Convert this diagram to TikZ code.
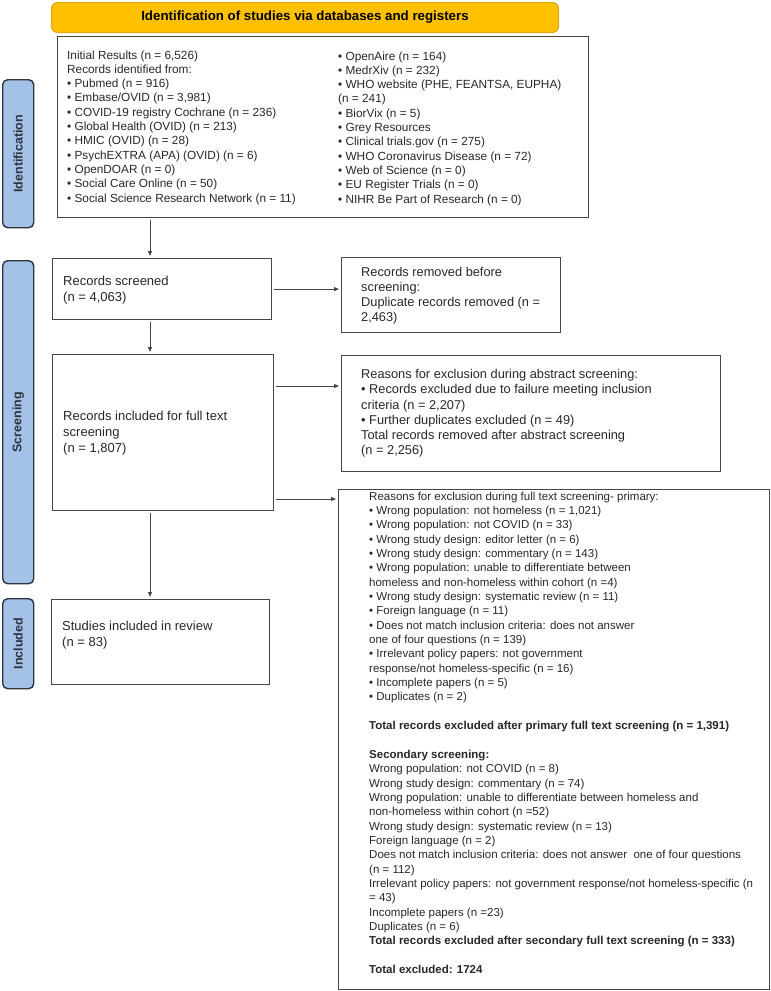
\documentclass[tikz,border=0pt]{standalone}
\usepackage{fontspec}
\setmainfont{Liberation Sans}
\usetikzlibrary{arrows.meta}
\definecolor{bannerfill}{RGB}{255,192,0}
\definecolor{bannerdraw}{RGB}{222,165,20}
\definecolor{tabfill}{RGB}{164,194,232}
\definecolor{tabdraw}{RGB}{45,52,62}
\definecolor{boxdraw}{RGB}{70,70,70}
\definecolor{txt}{RGB}{40,40,40}
\newcommand\fsA{\fontsize{11.8}{14.3}\selectfont}
\newcommand\fsB{\fontsize{13}{15.8}\selectfont}
\newcommand\fsC{\fontsize{12.8}{15.2}\selectfont}
\newcommand\fsD{\fontsize{11.5}{14.34}\selectfont}
\begin{document}
\begin{tikzpicture}[x=1pt,y=-1pt,
  boxframe/.style={draw=boxdraw, line width=1.2pt, fill=white, anchor=north west, inner sep=0pt},
  tabframe/.style={draw=tabdraw, fill=tabfill, line width=1.4pt, rounded corners=5pt, anchor=north west, inner sep=0pt, minimum width=31pt, font=\bfseries\fontsize{12.5}{14}\selectfont, text=tabdraw},
  bannerbox/.style={draw=bannerdraw, fill=bannerfill, line width=1pt, rounded corners=6pt, anchor=north west, inner sep=0pt, font=\bfseries\fontsize{13.3}{15}\selectfont, text=black},
  txtL/.style={anchor=west, align=left, inner sep=0pt, text=txt},
  arr/.style={draw=boxdraw, line width=0.8pt, shorten <=1.5pt, shorten >=2pt, -{Triangle[length=5pt,width=4pt]}}
]
\useasboundingbox (0,0) rectangle (771,991);
\fill[white] (0,0) rectangle (771,991);

% banner
\node[bannerbox, minimum width=507pt, minimum height=30pt] (banner) at (51,2) {Identification of studies via databases and registers};

% tabs
\node[tabframe, minimum height=148pt] (tabid) at (2,79) {\rotatebox{90}{Identification}};
\node[tabframe, minimum height=323pt] (tabscr) at (2,260) {\rotatebox{90}{Screening}};
\node[tabframe, minimum height=90pt] (tabinc) at (2,598) {\rotatebox{90}{Included}};

% identification box
\node[boxframe, minimum width=531pt, minimum height=181pt] (idbox) at (57,36) {};
\node[txtL, font=\fsA] (idL) at (67,127.5) {Initial Results (n = 6,526)\\
Records identified from:\\
• Pubmed (n = 916)\\
• Embase/OVID (n = 3,981)\\
• COVID-19 registry Cochrane (n = 236)\\
• Global Health (OVID) (n = 213)\\
• HMIC (OVID) (n = 28)\\
• PsychEXTRA (APA) (OVID) (n = 6)\\
• OpenDOAR (n = 0)\\
• Social Care Online (n = 50)\\
• Social Science Research Network (n = 11)};
\node[txtL, font=\fsA] (idR) at (338,128.5) {• OpenAire (n = 164)\\
• MedrXiv (n = 232)\\
• WHO website (PHE, FEANTSA, EUPHA)\\
(n = 241)\\
• BiorVix (n = 5)\\
• Grey Resources\\
• Clinical trials.gov (n = 275)\\
• WHO Coronavirus Disease (n = 72)\\
• Web of Science (n = 0)\\
• EU Register Trials (n = 0)\\
• NIHR Be Part of Research (n = 0)};

% left column boxes
\node[boxframe, minimum width=219pt, minimum height=61pt] (screened) at (52,258) {};
\node[txtL, font=\fsB] (screenedtxt) at (63,290) {Records screened\\(n = 4,063)};
\node[boxframe, minimum width=221pt, minimum height=156pt] (fulltext) at (52,354) {};
\node[txtL, font=\fsB] (fulltexttxt) at (63,433) {Records included for full text\\screening\\(n = 1,807)};
\node[boxframe, minimum width=218pt, minimum height=85pt] (studies) at (51,599) {};
\node[txtL, font=\fsB] (studiestxt) at (62,635) {Studies included in review\\(n = 83)};

% right column boxes
\node[boxframe, minimum width=219pt, minimum height=75pt] (removed) at (341,257) {};
\node[txtL, font=\fsC] (removedtxt) at (361,295.8) {Records removed before\\screening:\\Duplicate records removed (n =\\2,463)};
\node[boxframe, minimum width=379pt, minimum height=116pt] (abstract) at (341,355) {};
\node[txtL, font=\fsC] (abstracttxt) at (361,413.3) {Reasons for exclusion during abstract screening:\\
• Records excluded due to failure meeting inclusion\\
criteria (n = 2,207)\\
• Further duplicates excluded (n = 49)\\
Total records removed after abstract screening\\
(n = 2,256)};
\node[boxframe, minimum width=431pt, minimum height=500pt] (big) at (338,489) {};
\node[txtL, font=\fsD] (bigtxt) at (369,732.7) {Reasons for exclusion during full text screening- primary:\\
• Wrong population: not homeless (n = 1,021)\\
• Wrong population: not COVID (n = 33)\\
• Wrong study design: editor letter (n = 6)\\
• Wrong study design: commentary (n = 143)\\
• Wrong population: unable to differentiate between\\
homeless and non-homeless within cohort (n =4)\\
• Wrong study design: systematic review (n = 11)\\
• Foreign language (n = 11)\\
• Does not match inclusion criteria: does not answer\\
one of four questions (n = 139)\\
• Irrelevant policy papers: not government\\
response/not homeless-specific (n = 16)\\
• Incomplete papers (n = 5)\\
• Duplicates (n = 2)\\[14.34pt]
\textbf{Total records excluded after primary full text screening (n = 1,391)}\\[14.34pt]
\textbf{Secondary screening:}\\
Wrong population: not COVID (n = 8)\\
Wrong study design: commentary (n = 74)\\
Wrong population: unable to differentiate between homeless and\\
non-homeless within cohort (n =52)\\
Wrong study design: systematic review (n = 13)\\
Foreign language (n = 2)\\
Does not match inclusion criteria: does not answer \ one of four questions\\
(n = 112)\\
Irrelevant policy papers: not government response/not homeless-specific (n\\
= 43)\\
Incomplete papers (n =23)\\
Duplicates (n = 6)\\
\textbf{Total records excluded after secondary full text screening (n = 333)}\\[14.34pt]
\textbf{Total excluded: 1724}};

% connectors
\coordinate (colA) at (150,0);
\coordinate (rowB) at (0,386);
\coordinate (rowC) at (0,499);
\draw[arr] (idbox.south -| colA) -- (screened.north -| colA);
\draw[arr] (screened.south -| colA) -- (fulltext.north -| colA);
\draw[arr] (fulltext.south -| colA) -- (studies.north -| colA);
\draw[arr] (screened.east) -- (screened.east -| removed.west);
\draw[arr] (fulltext.east |- rowB) -- (abstract.west |- rowB);
\draw[arr] (fulltext.east |- rowC) -- (big.west |- rowC);
\end{tikzpicture}
\end{document}
